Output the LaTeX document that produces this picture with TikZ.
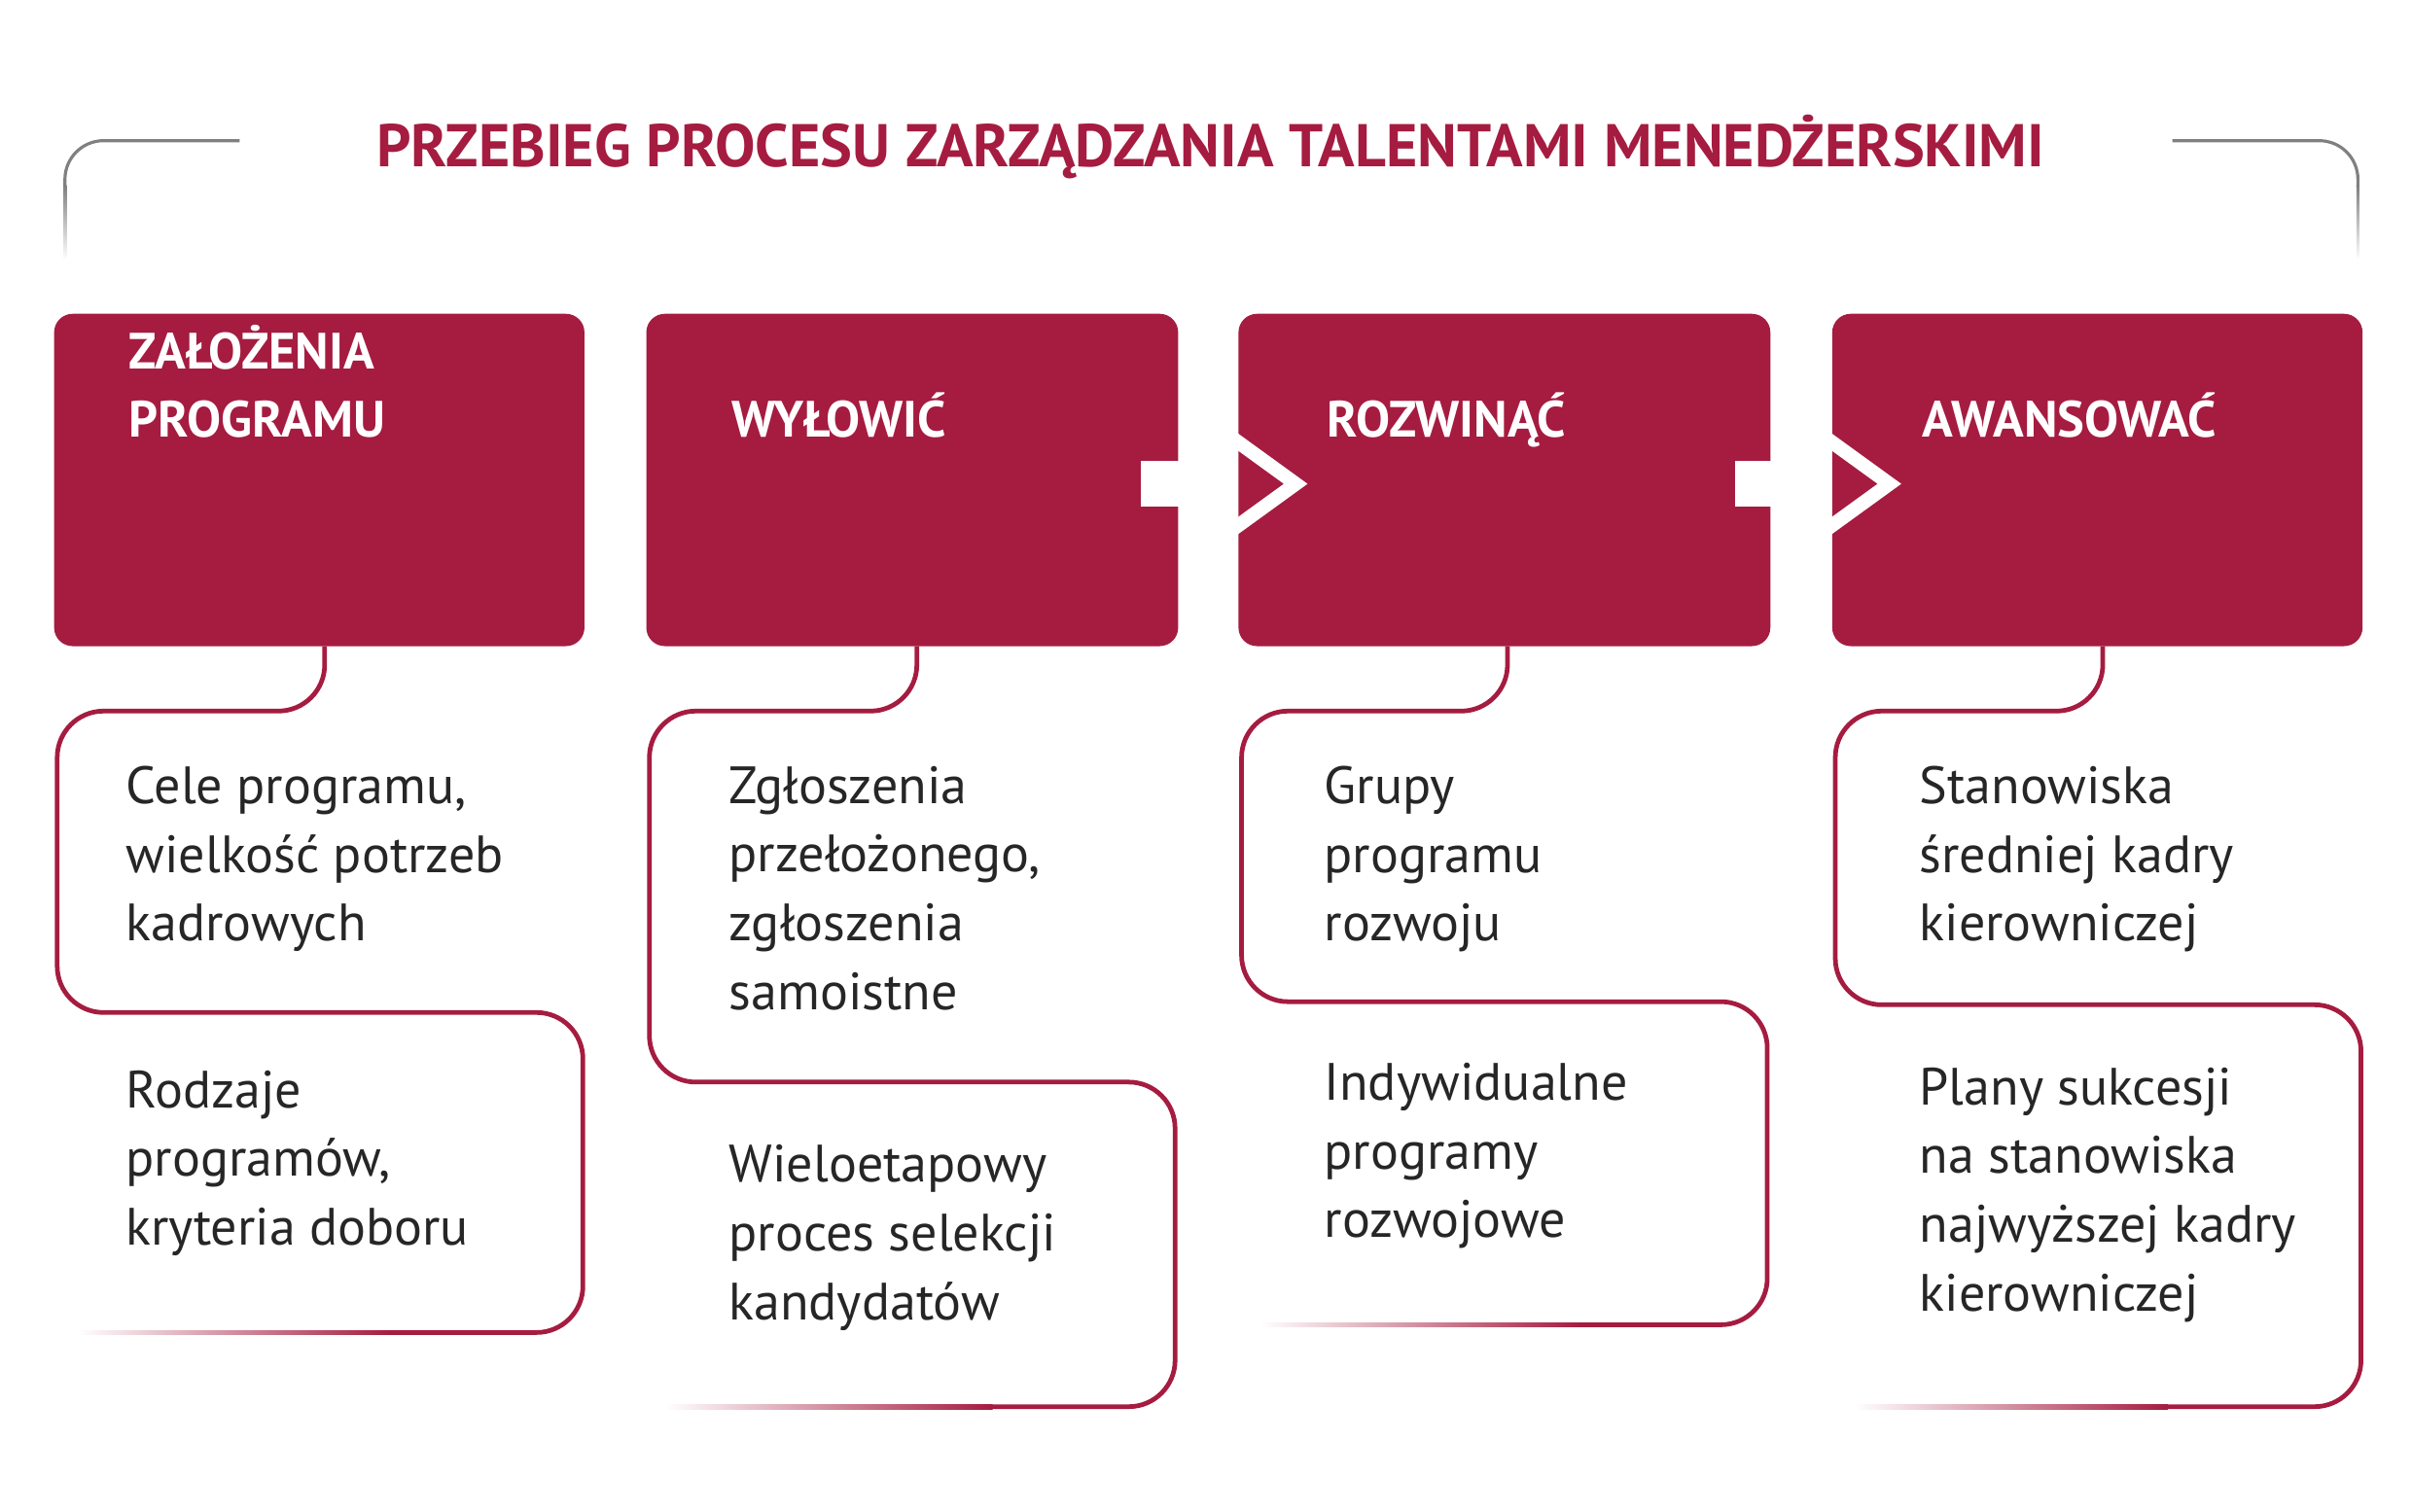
\documentclass[tikz,border=0pt]{standalone}
\usepackage{fontspec}
\setmainfont{PT Sans}
\definecolor{crim}{HTML}{A51C40}
\begin{document}
\begin{tikzpicture}[x=1pt,y=-1pt,
  box/.style={fill=crim,rounded corners=12pt,draw=none},
  head/.style={anchor=base west,text=white,font=\bfseries\fontsize{33}{44.5}\selectfont,align=left},
  txt/.style={anchor=north west,text=black!85,font=\fontsize{34}{44.5}\selectfont,align=left},
  ln/.style={draw=crim,line width=3pt,rounded corners=30pt},
  fd/.style={left color=white,right color=crim,draw=none},
  gfd/.style={top color=gray,bottom color=white,draw=none}]
\useasboundingbox (0,0) rectangle (1560,978);
% title
\node[text=crim,font=\bfseries\fontsize{39}{44}\selectfont] (title) at (783,95) {PRZEBIEG PROCESU ZARZĄDZANIA TALENTAMI MENEDŻERSKIMI};
\draw[gray,line width=2pt,rounded corners=25pt] (155,91) -- (42,91) -- (42,121);
\shade[gfd] (41,120) rectangle (43,168);
\draw[gray,line width=2pt,rounded corners=25pt] (1405,91) -- (1525,91) -- (1525,121);
\shade[gfd] (1524,120) rectangle (1526,168);
% boxes
\path[box] (35,203) rectangle (378,418);
\path[box] (418,203) rectangle (762,418);
\path[box] (801,203) rectangle (1145,418);
\path[box] (1185,203) rectangle (1528,418);
% arrows
\foreach \x in {738,1122}{
  \fill[white] (\x,298) rectangle (\x+62,328);
  \draw[white,line width=9pt,line join=miter] (\x+60,284) -- (\x+100,313) -- (\x+60,342);
}
\node[head] (h1) at (80,283) {OKRAŚLIĆ\\ZAŁOŻENIA\\PROGRAMU};
\node[head] (h2) at (470,283) {WYŁOWIĆ};
\node[head] (h3) at (855,283) {ROZWINĄĆ};
\node[head] (h4) at (1240,283) {AWANSOWAĆ};
% outlines
\draw[ln] (210,418) -- (210,460) -- (37,460) -- (37,655) -- (377,655) -- (377,862) -- (250,862);
\shade[fd] (50,860.5) rectangle (252,863.5);
\draw[ln] (593,418) -- (593,460) -- (420,460) -- (420,700) -- (760,700) -- (760,910) -- (640,910);
\shade[fd] (430,908.5) rectangle (642,911.5);
\draw[ln] (975,418) -- (975,460) -- (803,460) -- (803,648) -- (1143,648) -- (1143,857) -- (1020,857);
\shade[fd] (815,855.5) rectangle (1022,858.5);
\draw[ln] (1360,418) -- (1360,460) -- (1187,460) -- (1187,650) -- (1527,650) -- (1527,910) -- (1400,910);
\shade[fd] (1200,908.5) rectangle (1402,911.5);
% texts
\node[txt] (t1a) at (78,492) {Cele programu,\\wielkość potrzeb\\kadrowych};
\node[txt] (t1b) at (78,689) {Rodzaje\\programów,\\kryteria doboru};
\node[txt] (t2a) at (468,492) {Zgłoszenia\\przełożonego,\\zgłoszenia\\samoistne};
\node[txt] (t2b) at (468,737) {Wieloetapowy\\proces selekcji\\kandydatów};
\node[txt] (t3a) at (853,492) {Grupy\\programu\\rozwoju};
\node[txt] (t3b) at (853,684) {Indywidualne\\programy\\rozwojowe};
\node[txt] (t4a) at (1238,492) {Stanowiska\\średniej kadry\\kierowniczej};
\node[txt] (t4b) at (1238,687) {Plany sukcesji\\na stanowiska\\najwyższej kadry\\kierowniczej};
\end{tikzpicture}
\end{document}
